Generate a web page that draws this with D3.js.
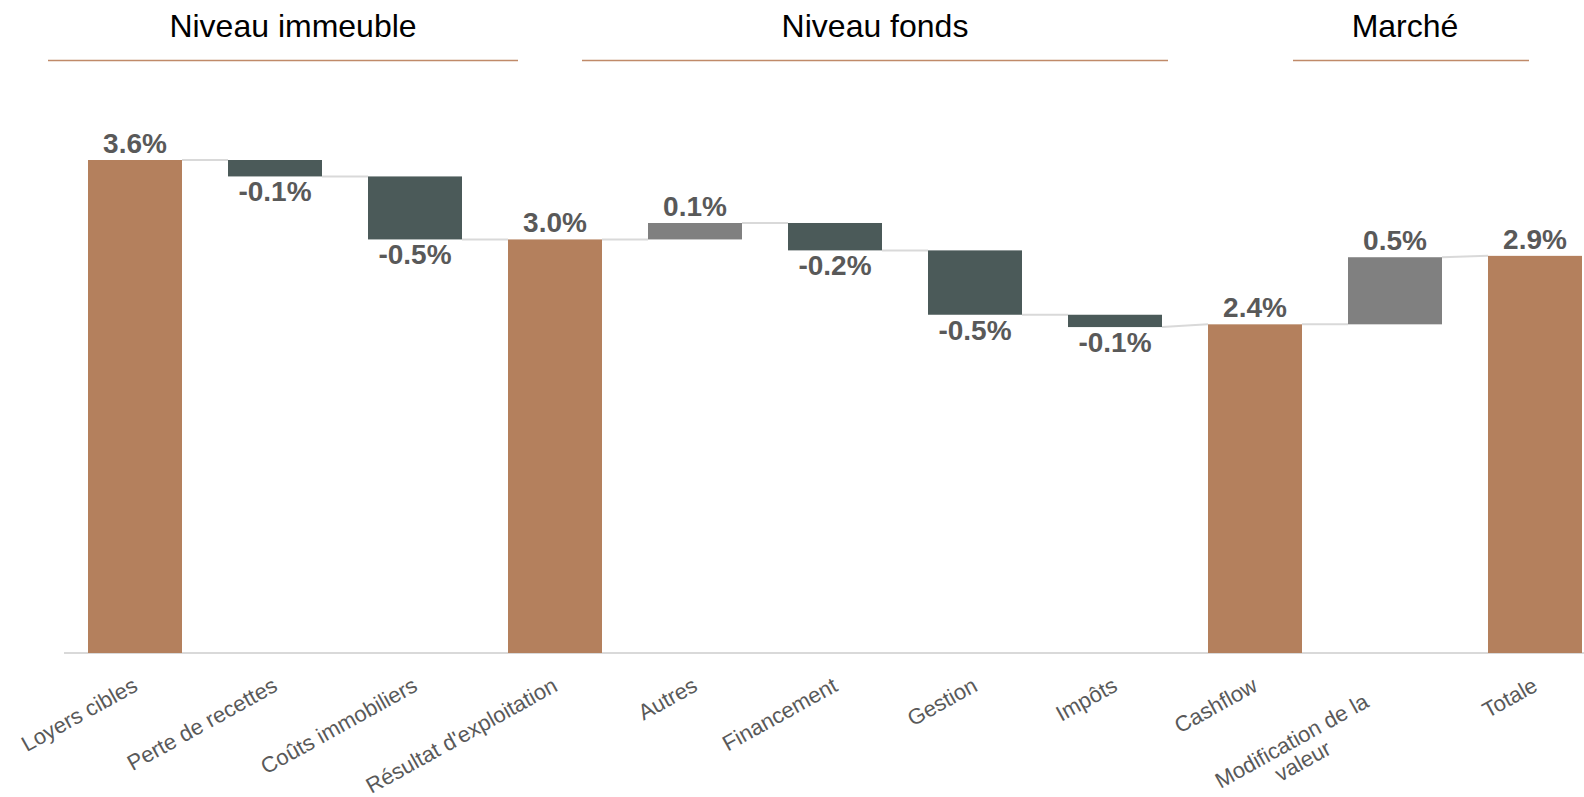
<!DOCTYPE html>
<html>
<head>
<meta charset="utf-8">
<script src="https://cdn.jsdelivr.net/npm/d3@7"></script>
<style>
  body { margin: 0; background: #fff; }
  svg { display: block; font-family: "Liberation Sans", Arial, sans-serif; }
  .valLabel { font-weight: bold; fill: #595959; }
  .catLabel { fill: #595959; }
</style>
</head>
<body>
<div id="chart"></div>
<script>
// Data
var categories = ["Loyers cibles", "Perte de recettes", "Coûts immobiliers", "Résultat d'exploitation",
    "Autres", "Financement", "Gestion", "Impôts", "Cashflow", "Modification de la valeur", "Totale"];
var values = [3.6, -0.12, -0.46, 3.02, 0.12, -0.2, -0.47, -0.09, 2.4, 0.49, 2.9];
var kinds = ["total", "delta", "delta", "total", "delta", "delta", "delta", "delta", "total", "delta", "total"];
var groupNames = ["Niveau immeuble", "Niveau fonds", "Marché"];

// Layout
var width = 1584, height = 797;
var groupLayout = [
    {x1: 48, x2: 518, tx: 293},
    {x1: 582, x2: 1168, tx: 875},
    {x1: 1293, x2: 1529, tx: 1405}
];
var colors = {total: "#B4805D", neg: "#4B5A59", pos: "#808080"};

var svg = d3.select("#chart")
    .append("svg")
    .attr("width", width)
    .attr("height", height);

// compute start / end of each bar
var running = 0;
var bars = categories.map(function(c, i){
    var v = values[i], start, end;
    if (kinds[i] === "total"){
        start = 0; end = v; running = v;
    }
    else{
        start = running; end = running + v; running = end;
    }
    return {cat: c, value: v, kind: kinds[i], start: start, end: end};
});

var x = d3.scaleBand()
    .domain(categories)
    .range([65, 1605])
    .paddingInner(0.3286)
    .paddingOuter(0.1643);

var y = d3.scaleLinear()
    .domain([0, 3.6])
    .range([653, 160]);

// baseline
var xAxis = d3.axisBottom(x).tickSize(0).tickFormat("");
svg.append("g")
    .attr("class", "xAxis")
    .attr("transform", `translate(0, ${y(0)})`)
    .call(xAxis)
    .call(function(g){
        g.select(".domain").attr("stroke", "#D9D9D9").attr("stroke-width", 2).attr("d", "M64,0H1584");
    });

// connectors (end of one bar to the level where the next one starts)
function joinLevel(d){
    return d.kind === "total" ? d.end : d.start;
}
svg.selectAll("line.conn")
    .data(bars.slice(0, -1))
    .enter()
    .append("line")
    .attr("class", "conn")
    .attr("x1", function(d){ return x(d.cat) + x.bandwidth(); })
    .attr("x2", function(d, i){ return x(bars[i + 1].cat); })
    .attr("y1", function(d){ return y(d.end); })
    .attr("y2", function(d, i){ return y(joinLevel(bars[i + 1])); })
    .attr("stroke", "#D9D9D9")
    .attr("stroke-width", 2);

// bars
svg.selectAll("rect.bar")
    .data(bars)
    .enter()
    .append("rect")
    .attr("class", "bar")
    .attr("x", function(d){ return x(d.cat); })
    .attr("width", x.bandwidth())
    .attr("y", function(d){ return y(Math.max(d.start, d.end)); })
    .attr("height", function(d){ return Math.abs(y(d.start) - y(d.end)); })
    .attr("fill", function(d){
        if (d.kind === "total") return colors.total;
        return d.value < 0 ? colors.neg : colors.pos;
    });

// value labels
var fmt = d3.formatLocale({decimal: ".", thousands: ",", grouping: [3], currency: ["", ""], minus: "-"}).format(".1f");
svg.selectAll("text.valLabel")
    .data(bars)
    .enter()
    .append("text")
    .attr("class", "valLabel")
    .attr("font-size", 28)
    .attr("text-anchor", "middle")
    .attr("x", function(d){ return x(d.cat) + x.bandwidth() / 2; })
    .attr("y", function(d){
        if (d.value < 0) return y(Math.min(d.start, d.end)) + 25;
        return y(Math.max(d.start, d.end)) - 7;
    })
    .text(function(d){ return fmt(d.value) + "%"; });

// category labels (rotated, wrapped)
var angle = -29;
var catLabels = svg.selectAll("text.catLabel")
    .data(bars)
    .enter()
    .append("text")
    .attr("class", "catLabel")
    .attr("font-size", 22)
    .attr("text-anchor", "end")
    .attr("transform", function(d){
        return `translate(${x(d.cat) + x.bandwidth() / 2 + 4}, 690) rotate(${angle})`;
    });

catLabels.each(function(d){
    var t = d3.select(this);
    var words = d.cat.split(" ");
    var lines = [], line = [];
    var probe = t.append("tspan");
    words.forEach(function(w){
        line.push(w);
        probe.text(line.join(" "));
        if (probe.node().getComputedTextLength() > 225 && line.length > 1){
            line.pop();
            lines.push(line.join(" "));
            line = [w];
        }
    });
    lines.push(line.join(" "));
    probe.remove();

    if (lines.length === 1){
        t.text(lines[0]);
        return;
    }
    // multi-line: lines centred on each other
    var widths = lines.map(function(l){
        var p = t.append("tspan").text(l);
        var w = p.node().getComputedTextLength();
        p.remove();
        return w;
    });
    var maxW = d3.max(widths);
    t.attr("text-anchor", "middle");
    lines.forEach(function(l, i){
        t.append("tspan")
            .attr("x", -maxW / 2 - 33)
            .attr("y", i * 23)
            .text(l);
    });
});

// group headers
var groups = svg.selectAll("g.group")
    .data(groupNames)
    .enter()
    .append("g")
    .attr("class", "group");

groups.append("text")
    .attr("x", function(d, i){ return groupLayout[i].tx; })
    .attr("y", 37)
    .attr("text-anchor", "middle")
    .attr("font-size", 32)
    .attr("fill", "#000")
    .text(function(d){ return d; });

groups.append("line")
    .attr("x1", function(d, i){ return groupLayout[i].x1; })
    .attr("x2", function(d, i){ return groupLayout[i].x2; })
    .attr("y1", 60.5)
    .attr("y2", 60.5)
    .attr("stroke", "#C08A69")
    .attr("stroke-width", 1.5);
</script>
</body>
</html>
